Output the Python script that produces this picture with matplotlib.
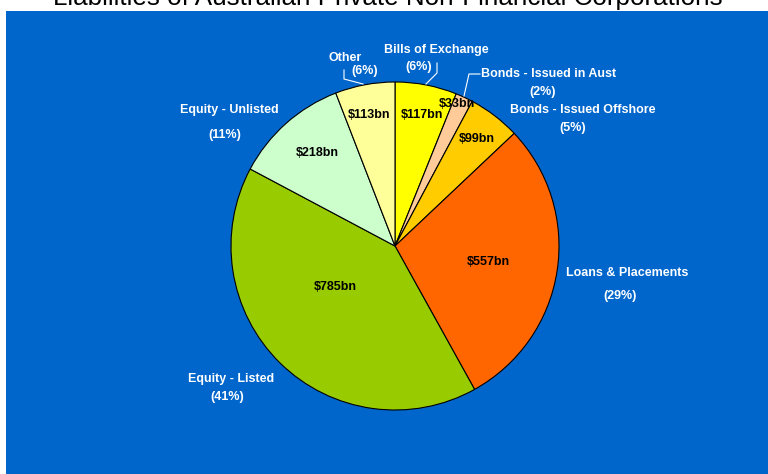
import matplotlib
matplotlib.use("Agg")
import matplotlib.pyplot as plt
from matplotlib.patches import Rectangle

plt.rcParams['font.family'] = ['Liberation Sans', 'DejaVu Sans']

# liabilities, $bn
categories = ["Bills of Exchange", "Bonds - Issued in Aust", "Bonds - Issued Offshore",
              "Loans & Placements", "Equity - Listed", "Equity - Unlisted", "Other"]
values = [117, 33, 99, 557, 785, 218, 113]
colors = ["#FFFF00", "#FFCC99", "#FFCC00", "#FF6600", "#99CC00", "#CCFFCC", "#FFFF99"]

total = sum(values)
shares = [round(v / total * 100) for v in values]

W, H = 768, 474
fig = plt.figure(figsize=(W / 100, H / 100), dpi=100)
fig.patch.set_facecolor("white")
ax = fig.add_axes([0, 0, 1, 1])

# blue panel
ax.add_patch(Rectangle((6, 0), W - 6, H - 11, facecolor="#0066CC", edgecolor="none", zorder=0))

def py(y):
    # pixel row -> data y
    return H - y

ax.pie(values, colors=colors, startangle=90, counterclock=False,
       center=(395, py(246)), radius=164,
       wedgeprops=dict(edgecolor="black", linewidth=0.8))
ax.set_xlim(0, W)
ax.set_ylim(0, H)
ax.set_aspect("equal")
ax.axis("off")

ax.text(388, py(4.5), "Liabilities of Australian Private Non-Financial Corporations",
        ha="center", va="baseline", fontsize=18.7, color="black", clip_on=False)

# value labels inside the slices
inside = [(422, 115), (457, 104), (477, 139), (488, 262), (335, 287), (317, 153), (369, 115)]
for v, (x, y) in zip(values, inside):
    ax.text(x, py(y), f"${v}bn", ha="center", va="center", fontsize=9,
            fontweight="bold", color="black")

# category labels outside
outside = [
    ((436, 50), (419, 67)),
    ((549, 74), (543, 92)),
    ((583, 110), (573, 128)),
    ((627, 273), (620, 296)),
    ((231, 379), (227, 397)),
    ((229, 110), (225, 135)),
    ((345, 58), (365, 71)),
]
for name, s, ((x1, y1), (x2, y2)) in zip(categories, shares, outside):
    ax.text(x1, py(y1), name, ha="center", va="center", fontsize=9,
            fontweight="bold", color="white")
    ax.text(x2, py(y2), f"({s}%)", ha="center", va="center", fontsize=9,
            fontweight="bold", color="white")

# leader lines
leaders = [
    [(437, 63), (437, 73), (426, 84)],
    [(480, 74), (469, 74), (464, 96)],
    [(344, 70), (344, 79), (363, 84)],
]
for pts in leaders:
    ax.plot([p[0] for p in pts], [py(p[1]) for p in pts], color="white", linewidth=0.8)

fig.savefig("out.png", dpi=100, facecolor=fig.get_facecolor())
